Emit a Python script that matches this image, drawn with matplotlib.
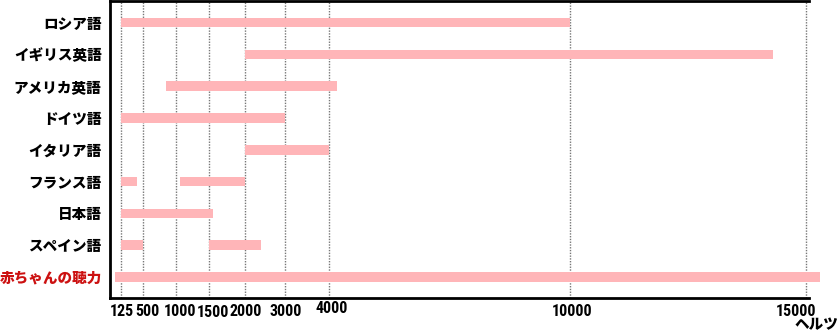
import numpy as np
import matplotlib
matplotlib.use("Agg")
import matplotlib.pyplot as plt
from matplotlib.transforms import ScaledTranslation

plt.rcParams['font.family'] = ['Noto Sans CJK JP', 'DejaVu Sans']

# ---- data ----
languages = ["ロシア語", "イギリス英語", "アメリカ英語", "ドイツ語", "イタリア語",
             "フランス語", "日本語", "スペイン語", "赤ちゃんの聴力"]
# frequency ranges (Hz) per language, as (start, end) segments
ranges = [
    [(125, 10000)],
    [(2000, 14300)],
    [(850, 4200)],
    [(125, 3000)],
    [(2000, 4000)],
    [(125, 400), (1060, 2000)],
    [(125, 1550)],
    [(125, 500), (1500, 2400)],
    [(20, 15300)],
]
tick_hz = [125, 500, 1000, 1500, 2000, 3000, 4000, 10000, 15000]
tick_labels = ["125", "500", "1000", "1500", "2000", "3000", "4000", "10000", "15000"]
unit_label = "ヘルツ"

# ---- layout (hand drawn axis) ----
scale_pos = [11, 33, 66, 99, 135, 175, 219, 460, 696]
label_dx = [1, 4.5, 4.5, 3.5, 1, 1, 3, 2.5, -10]
label_dy = [0, 0, 0, -1.5, 0, 0, 2.5, 0, 0]


def _pw(x, xs, ys):
    x = np.asarray(x, dtype=float)
    scalar = x.ndim == 0
    x = np.atleast_1d(x)
    y = np.interp(x, xs, ys)
    lo = x < xs[0]
    hi = x > xs[-1]
    y[lo] = ys[0] + (x[lo] - xs[0]) * (ys[1] - ys[0]) / (xs[1] - xs[0])
    y[hi] = ys[-1] + (x[hi] - xs[-1]) * (ys[-1] - ys[-2]) / (xs[-1] - xs[-2])
    return y[0] if scalar else y


def fwd(x):
    return _pw(x, tick_hz, scale_pos)


def inv(p):
    return _pw(p, scale_pos, tick_hz)


W, H = 840, 333
fig = plt.figure(figsize=(W / 100, H / 100), dpi=100)
ax = fig.add_axes([110 / W, (H - 298) / H, (809 - 110) / W, (298 - 1) / H])
ax.set_xscale('function', functions=(fwd, inv))
ax.set_xlim(inv(0), inv(699))

bar_color = "#FFB5B8"
for i, segs in enumerate(ranges):
    for a, b in segs:
        ax.barh(i, b - a, left=a, height=0.3, color=bar_color, clip_on=False, zorder=3)

n = len(languages)
ax.set_ylim(n - 1 + 0.667, -0.683)

ax.set_yticks(range(n))
ax.set_yticklabels(languages, fontsize=10.5, fontweight='heavy')
for lbl, name in zip(ax.get_yticklabels(), languages):
    if name == "赤ちゃんの聴力":
        lbl.set_color("#CC1111")
ax.tick_params(axis='y', length=0, pad=6)

ax.set_xticks(tick_hz)
ax.set_xticklabels(tick_labels, fontsize=11.5, fontweight='bold',
                   family=['Roboto Condensed', 'Archivo Narrow', 'PT Sans Narrow',
                           'Fira Sans Extra Condensed', 'DejaVu Sans'])
ax.tick_params(axis='x', length=0, pad=4)
ax.minorticks_off()
xl = ax.get_xticklabels()
for k, lbl in enumerate(xl):
    lbl.set_transform(lbl.get_transform() +
                      ScaledTranslation(label_dx[k] / 100, label_dy[k] / 100, fig.dpi_scale_trans))

for t in tick_hz:
    ax.axvline(t, color="#777777", linestyle=(0, (1, 1)), linewidth=1.0, zorder=1)

for s in ['left', 'top', 'bottom']:
    ax.spines[s].set_linewidth(2.0)
    ax.spines[s].set_color('black')
ax.spines['right'].set_visible(False)

fig.text(838 / W, 1 - 324.5 / H, unit_label, ha='right', va='center',
         fontsize=10.5, fontweight='heavy')

fig.savefig("out.png", dpi=100)
